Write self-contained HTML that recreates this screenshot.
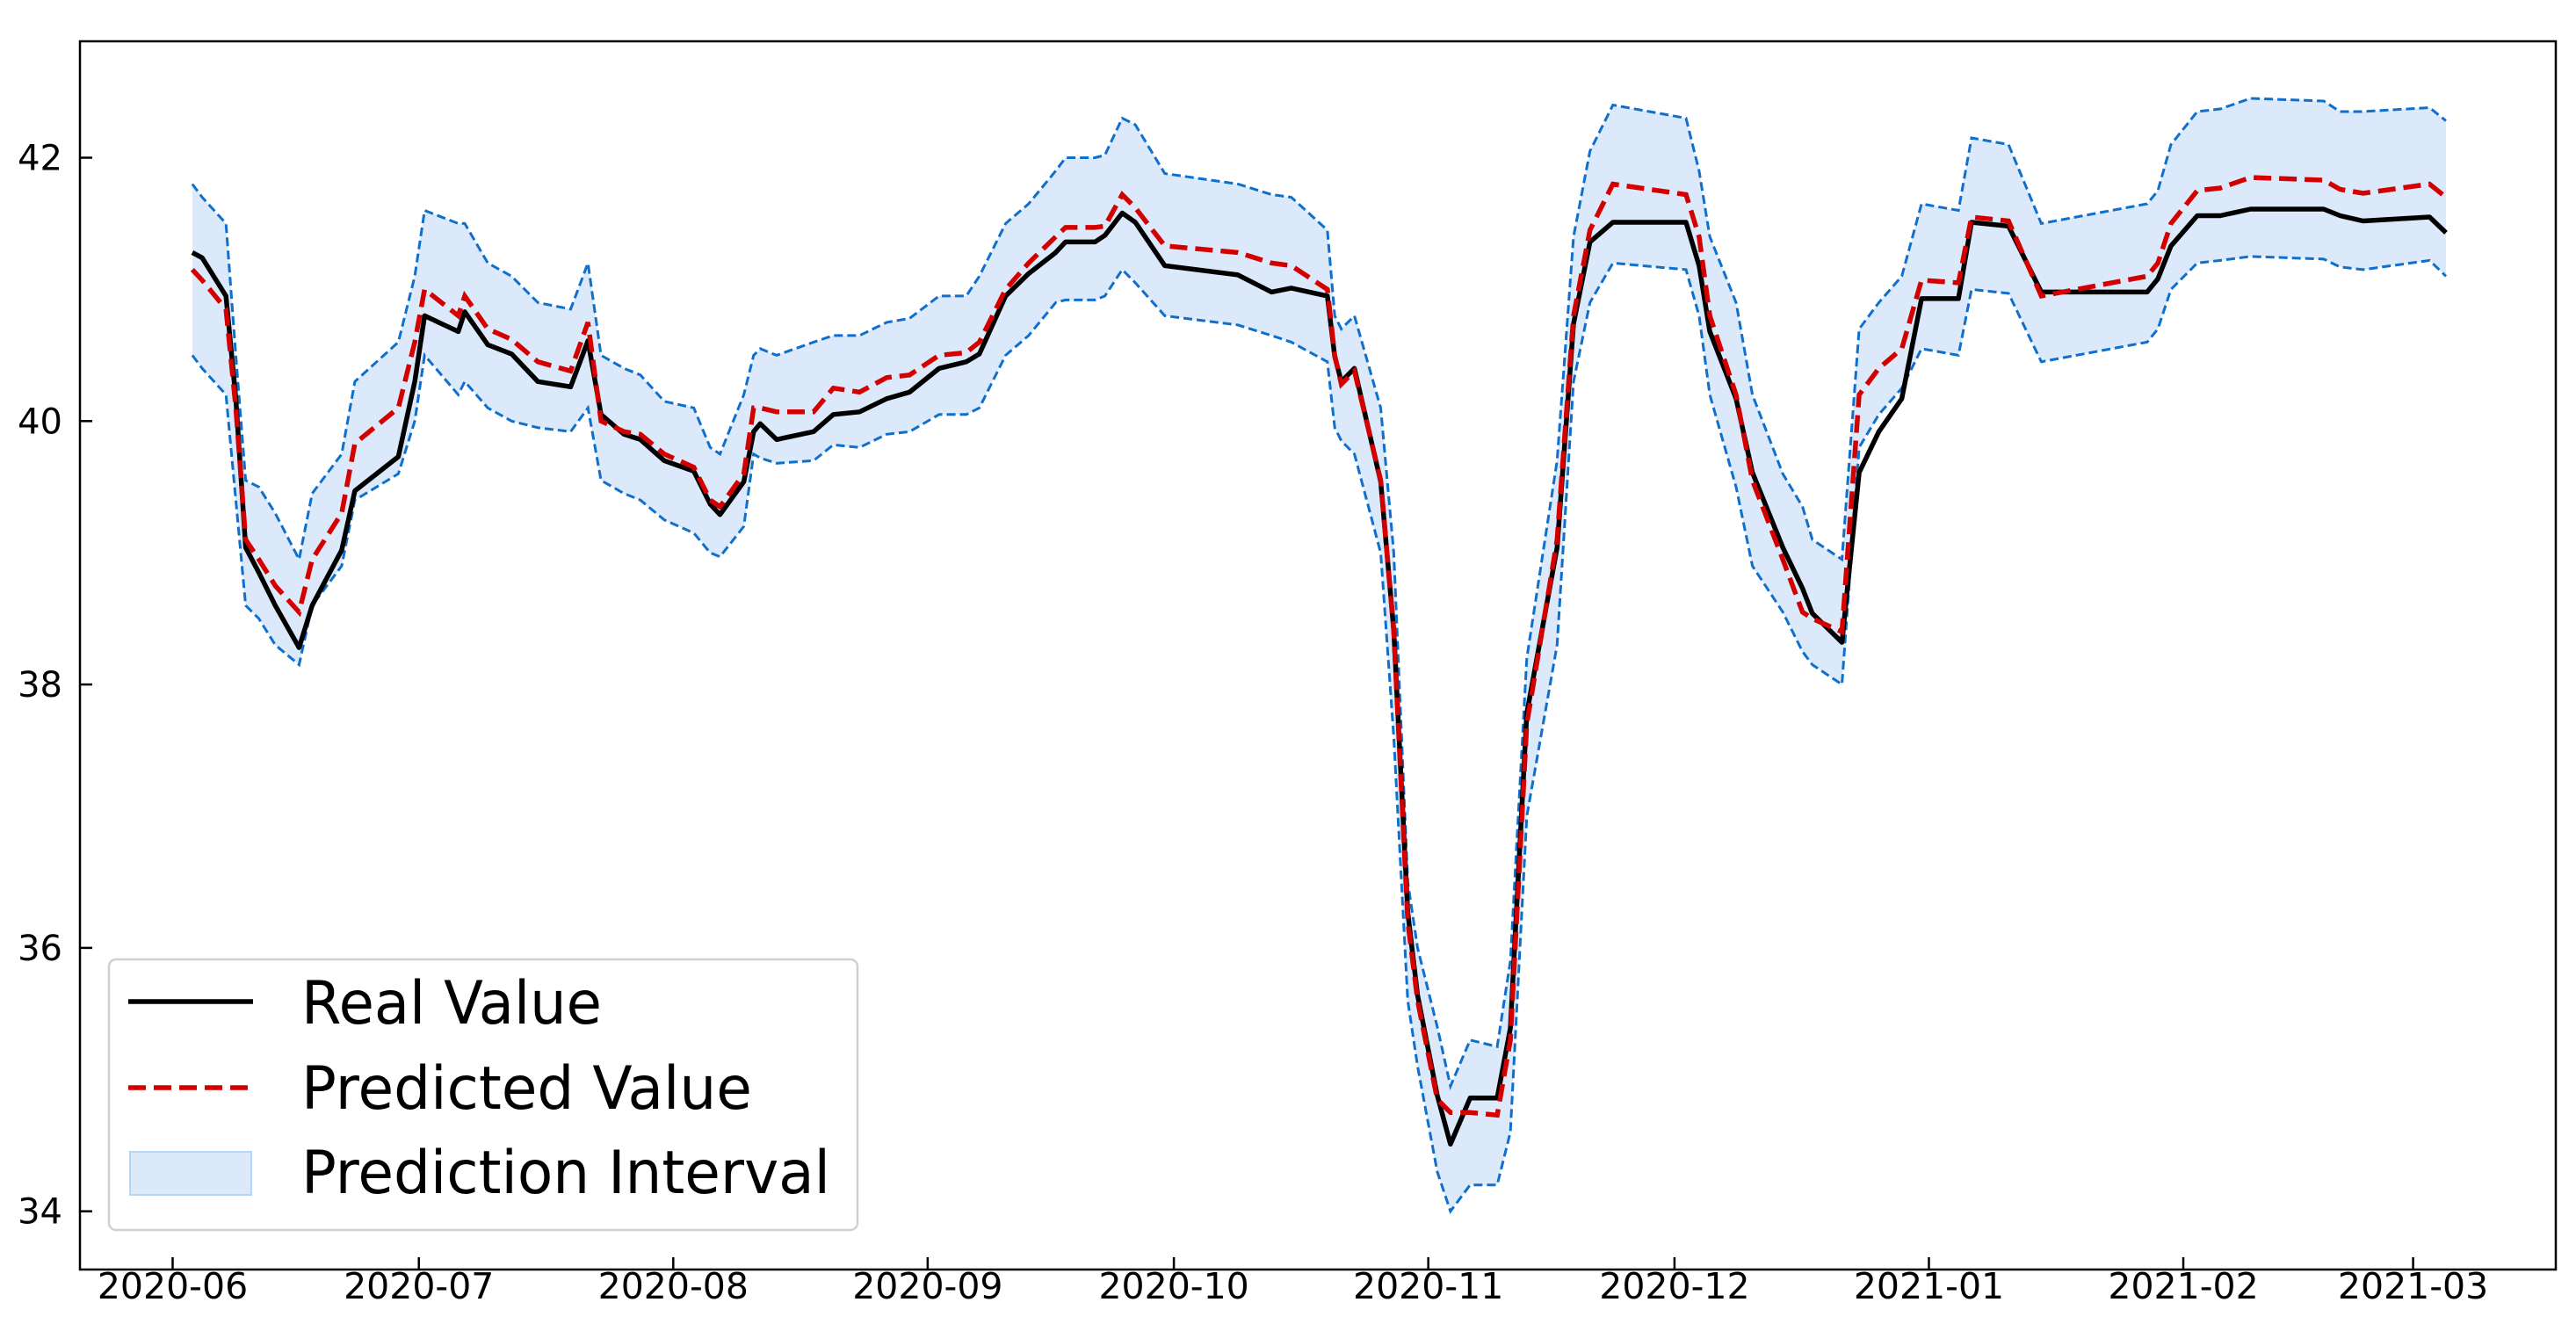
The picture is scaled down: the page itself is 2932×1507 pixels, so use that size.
<!DOCTYPE html>
<html><head><meta charset="utf-8">
<style>
html,body{margin:0;padding:0;background:#fff;}
svg{display:block;font-family:"DejaVu Sans","Liberation Sans",sans-serif;}
</style></head>
<body>
<svg id="chart" width="2932" height="1507" viewBox="0 0 2932 1507" xmlns="http://www.w3.org/2000/svg">
<rect width="2932" height="1507" fill="#fff"/>
<g id="plot"></g>
</svg>
<script>
const days = [2.4,3.6,6.5,7.7,8.9,10.5,12.5,15.4,17,20.6,
22.2,27.5,29.5,30.7,34.8,35.6,38.4,41.3,44.5,48.5,
50.6,52.2,55,57,59.9,63.5,65.5,66.7,69.6,70.8,
71.6,73.6,78.1,80.5,83.7,87,89.8,93.4,96.7,98.3,
101.5,104.3,107.6,108.8,112.4,113.6,115.7,117.3,120.9,129.8,
133.9,136.3,140.7,141.6,142.4,144,147.2,148.8,150.5,151.7,
154.1,155.7,158.1,161.4,163,165,168.7,170.7,172.7,175.5,
184.4,186,187.3,190.5,192.5,196.2,198.6,199.8,203.4,205.5,
207.9,210.7,213.1,217.6,219.2,223.7,227.7,240.6,241.9,243.5,
246.7,249.5,253.2,262.1,264.1,266.9,275,277];
const realValues = [41.28,41.24,40.95,40.17,39.04,38.85,38.60,38.28,38.60,39.02,
39.47,39.73,40.30,40.80,40.68,40.83,40.58,40.51,40.30,40.26,
40.61,40.05,39.90,39.86,39.70,39.62,39.37,39.29,39.54,39.92,
39.98,39.86,39.92,40.05,40.07,40.17,40.22,40.40,40.45,40.51,
40.95,41.12,41.28,41.36,41.36,41.41,41.58,41.51,41.18,41.11,
40.98,41.01,40.95,40.49,40.30,40.40,39.54,38.41,36.27,35.64,
34.88,34.51,34.86,34.86,35.39,37.78,39.04,40.74,41.36,41.51,
41.51,41.18,40.68,40.17,39.61,39.04,38.73,38.54,38.32,39.61,
39.92,40.17,40.93,40.93,41.51,41.48,40.98,40.98,41.08,41.33,
41.56,41.56,41.61,41.61,41.56,41.52,41.55,41.43];
const predValues = [41.15,41.07,40.85,40.10,39.10,38.95,38.75,38.55,38.95,39.30,
39.83,40.10,40.60,41.00,40.80,40.95,40.70,40.62,40.45,40.38,
40.75,40.00,39.92,39.90,39.75,39.65,39.40,39.35,39.60,40.10,
40.10,40.07,40.07,40.25,40.22,40.33,40.35,40.50,40.52,40.60,
41.00,41.20,41.40,41.47,41.47,41.48,41.72,41.62,41.33,41.28,
41.20,41.18,41.00,40.50,40.28,40.38,39.55,38.40,36.20,35.60,
34.85,34.75,34.75,34.73,35.30,37.70,39.10,40.80,41.45,41.80,
41.72,41.40,40.80,40.20,39.55,38.95,38.55,38.50,38.40,40.20,
40.40,40.55,41.07,41.05,41.55,41.52,40.95,41.10,41.20,41.50,
41.75,41.77,41.85,41.83,41.76,41.73,41.80,41.70];
const upperValues = [41.8,41.7,41.5,40.5,39.55,39.5,39.3,38.95,39.45,39.75,
40.3,40.6,41.1,41.6,41.5,41.5,41.2,41.1,40.9,40.85,
41.2,40.5,40.4,40.35,40.15,40.1,39.8,39.75,40.2,40.5,
40.55,40.5,40.6,40.65,40.65,40.75,40.78,40.95,40.95,41.1,
41.5,41.65,41.9,42.0,42.0,42.02,42.3,42.25,41.88,41.8,
41.72,41.7,41.45,40.8,40.7,40.8,40.1,39.0,36.5,36.0,
35.4,34.95,35.3,35.25,35.9,38.2,39.7,41.4,42.05,42.4,
42.3,41.9,41.4,40.9,40.2,39.6,39.35,39.1,38.95,40.7,
40.9,41.1,41.65,41.6,42.15,42.1,41.5,41.65,41.75,42.1,
42.35,42.37,42.45,42.43,42.35,42.35,42.38,42.28];
const lowerValues = [40.5,40.4,40.2,39.4,38.6,38.5,38.3,38.15,38.6,38.9,
39.4,39.6,40.0,40.5,40.2,40.3,40.1,40.0,39.95,39.92,
40.1,39.55,39.45,39.4,39.25,39.15,39.0,38.97,39.2,39.75,
39.72,39.68,39.7,39.82,39.8,39.9,39.92,40.05,40.05,40.1,
40.5,40.65,40.9,40.92,40.92,40.95,41.15,41.05,40.8,40.73,
40.65,40.6,40.45,39.95,39.85,39.75,39.0,37.6,35.6,35.1,
34.3,34.0,34.2,34.2,34.6,37.0,38.3,40.3,40.9,41.2,
41.15,40.8,40.2,39.5,38.9,38.55,38.25,38.15,38.0,39.8,
40.05,40.25,40.55,40.5,41.0,40.97,40.45,40.6,40.7,41.0,
41.2,41.22,41.25,41.23,41.17,41.15,41.22,41.1];
const xTickDays = [0,30,61,92,122,153,183,214,245,273];
const xTickLabels = ["2020-06","2020-07","2020-08","2020-09","2020-10","2020-11","2020-12","2021-01","2021-02","2021-03"];
const yTicks = [34,36,38,40,42];

const NS="http://www.w3.org/2000/svg";
const L=91,R=2909,T=47,B=1445;
function xScale(d){return 196.5+9.341*d;}
function yScale(v){return 179.5+(42-v)*149.9;}
const g=document.getElementById('plot');
function mk(tag,attrs,parent){const e=document.createElementNS(NS,tag);for(const k in attrs)e.setAttribute(k,attrs[k]);(parent||g).appendChild(e);return e;}
function pts(vals){return days.map((d,i)=>xScale(d).toFixed(1)+','+yScale(vals[i]).toFixed(1));}

const up=pts(upperValues), lo=pts(lowerValues).reverse();
const band=mk('polygon',{points:up.concat(lo).join(' '),fill:'#dbe9fb',stroke:'none'});


const ub=mk('polyline',{points:up.join(' '),fill:'none',stroke:'#0f6fcc','stroke-width':3,'stroke-dasharray':'10,5'});


const lb=mk('polyline',{points:pts(lowerValues).join(' '),fill:'none',stroke:'#0f6fcc','stroke-width':3,'stroke-dasharray':'10,5'});


const rl=mk('polyline',{points:pts(realValues).join(' '),fill:'none',stroke:'#000','stroke-width':5.5,'stroke-linejoin':'round'});


const pl=mk('polyline',{points:pts(predValues).join(' '),fill:'none',stroke:'#d40000','stroke-width':5.5,'stroke-dasharray':'20,9'});



const fr=mk('rect',{x:L,y:T,width:R-L,height:B-T,fill:'none',stroke:'#000','stroke-width':2.5});



yTicks.forEach(v=>{
  const y=yScale(v);
  const t=mk('line',{x1:L,x2:L+14,y1:y,y2:y,stroke:'#000','stroke-width':2.5});
  
  
  const tx=mk('text',{x:71,y:y+14,'font-size':40,'text-anchor':'end',fill:'#000'});
  tx.textContent=v;
  
  
});
xTickDays.forEach((d,i)=>{
  const x=xScale(d);
  const t=mk('line',{x1:x,x2:x,y1:B,y2:B-14,stroke:'#000','stroke-width':2.5});
  
  
  const tx=mk('text',{x:x,y:1478,'font-size':41,'text-anchor':'middle',fill:'#000'});
  tx.textContent=xTickLabels[i];
  
  
});

const lg=mk('g',{});


mk('rect',{x:124,y:1092,width:852,height:308,rx:8,fill:'#fff','fill-opacity':0.85,stroke:'#d0d0d0','stroke-width':2.5},lg);
const e1=mk('line',{x1:146,x2:288,y1:1140,y2:1140,stroke:'#000','stroke-width':5.5},lg);


const t1=mk('text',{x:343,y:1165,'font-size':68,fill:'#000',textLength:342,lengthAdjust:'spacingAndGlyphs'},lg);t1.textContent='Real Value';


const e2=mk('line',{x1:146,x2:288,y1:1238,y2:1238,stroke:'#d40000','stroke-width':5.5,'stroke-dasharray':'20,9'},lg);


const t2=mk('text',{x:343,y:1262,'font-size':68,fill:'#000',textLength:513,lengthAdjust:'spacingAndGlyphs'},lg);t2.textContent='Predicted Value';


const e3=mk('rect',{x:148,y:1311,width:138,height:49,fill:'#dbe9fb',stroke:'#b8d4f5','stroke-width':2},lg);


const t3=mk('text',{x:343,y:1358,'font-size':68,fill:'#000',textLength:602,lengthAdjust:'spacingAndGlyphs'},lg);t3.textContent='Prediction Interval';


</script>
</body></html>
